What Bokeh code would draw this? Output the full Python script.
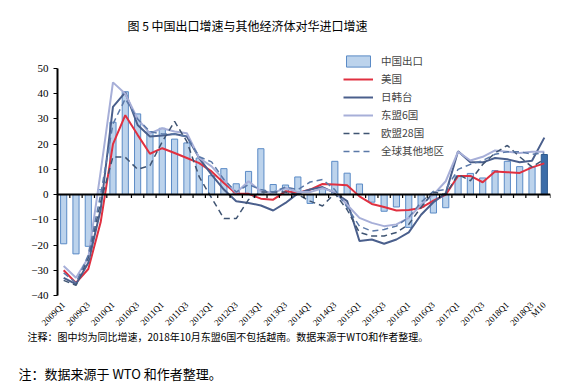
from math import pi
import numpy as np
from bokeh.plotting import figure
from bokeh.layouts import column
from bokeh.models import (ColumnDataSource, Range1d, FixedTicker, Span, Label,
                          Legend, LegendItem)
from bokeh.core.properties import value
from bokeh.embed import file_html
from bokeh.resources import INLINE

# ---------------- data ----------------
categories = [
    "2009Q1", "2009Q2", "2009Q3", "2009Q4", "2010Q1", "2010Q2", "2010Q3", "2010Q4",
    "2011Q1", "2011Q2", "2011Q3", "2011Q4", "2012Q1", "2012Q2", "2012Q3", "2012Q4",
    "2013Q1", "2013Q2", "2013Q3", "2013Q4", "2014Q1", "2014Q2", "2014Q3", "2014Q4",
    "2015Q1", "2015Q2", "2015Q3", "2015Q4", "2016Q1", "2016Q2", "2016Q3", "2016Q4",
    "2017Q1", "2017Q2", "2017Q3", "2017Q4", "2018Q1", "2018Q2", "2018Q3", "M10",
]

china_export = [-19.5, -23.5, -20.5, 2.0, 28.7, 40.8, 32.0, 25.0, 26.3, 22.0,
                20.5, 14.5, 7.5, 10.3, 4.3, 9.2, 18.2, 4.0, 3.8, 7.0,
                -3.5, 2.5, 13.2, 8.5, 4.2, -3.0, -6.6, -4.9, -13.0, -5.0,
                -7.3, -5.2, 7.4, 8.4, 6.6, 9.5, 13.2, 11.1, 10.9, 15.9]

usa = [-30.0, -35.0, -29.5, -11.0, 20.0, 31.5, 23.7, 16.2, 18.4, 16.5,
       14.5, 12.5, 9.2, 4.6, 0.3, 0.3, -1.6, -2.0, 1.3, 0.7,
       2.0, 4.2, 4.0, 3.7, -0.7, -3.7, -4.9, -6.3, -6.1, -5.3,
       -2.4, 0.0, 7.4, 7.4, 4.9, 9.2, 8.9, 8.6, 10.8, 12.4]

jkt = [-33.0, -35.5, -27.0, -6.0, 34.8, 40.5, 27.6, 23.0, 23.4, 24.0,
       23.0, 14.5, 7.9, 2.0, -2.6, -3.3, -4.3, -6.3, -3.3, 0.5,
       2.0, 3.0, 0.7, -2.6, -18.4, -17.8, -19.5, -17.8, -15.0, -8.0,
       -3.0, 0.5, 17.2, 12.8, 12.8, 14.5, 14.0, 12.8, 13.4, 22.6]

asean6 = [-28.3, -33.0, -25.0, 9.0, 44.5, 40.0, 30.0, 24.3, 26.3, 25.0,
          24.3, 14.5, 11.2, 5.9, 0.7, 5.3, 1.3, 0.7, 2.6, 1.0,
          1.0, 2.5, 1.0, -4.0, -9.2, -11.2, -12.5, -11.8, -9.2, -4.0,
          0.0, 5.3, 17.0, 13.5, 15.0, 17.5, 17.0, 16.5, 17.0, 17.0]

eu28 = [-34.0, -36.0, -25.0, -3.0, 15.0, 14.8, 10.0, 11.5, 21.0, 29.0,
        21.0, 7.0, -1.3, -9.5, -9.5, -2.0, 1.0, 1.0, 1.0, 0.0,
        -2.6, -4.5, 0.5, -6.0, -15.0, -16.4, -16.4, -15.0, -11.8, -5.0,
        1.0, 0.0, 8.0, 5.5, 12.0, 16.5, 19.5, 15.0, 11.0, 14.0]

rest_world = [-31.0, -35.0, -24.0, 0.0, 28.0, 38.0, 30.0, 25.0, 24.0, 24.0,
              23.0, 15.0, 13.0, 6.0, 1.0, 4.0, 2.0, 1.0, 3.0, 2.0,
              5.0, 6.0, 2.0, -5.0, -12.5, -14.5, -13.8, -12.5, -9.0, -3.0,
              1.3, 2.0, 10.0, 12.0, 13.5, 16.0, 17.0, 17.0, 16.0, 16.5]

y_ticks = [-40, -30, -20, -10, 0, 10, 20, 30, 40, 50]

series_names = ["中国出口", "美国", "日韩台", "东盟6国", "欧盟28国", "全球其他地区"]
title_text = "图 5 中国出口增速与其他经济体对华进口增速"
note1_text = "注释：图中均为同比增速，2018年10月东盟6国不包括越南。数据来源于WTO和作者整理。"
note2_text = "注：数据来源于 WTO 和作者整理。"

# ---------------- layout constants (pixels) ----------------
W = 566
PLOT_LEFT, PLOT_RIGHT = 57, 550
PLOT_TOP, PLOT_BOTTOM = 68, 295
H_MAIN = 300          # main chart canvas (frame runs from row 0 to PLOT_BOTTOM)
H_LOW = 86            # strip under it: category labels and notes

CJK = "Noto Sans CJK SC"
SERIF = "Liberation Serif"

n = len(categories)
xs = np.arange(n)
bar_fill = ["#3C6DA8" if c == "M10" else "#BCD3EC" for c in categories]
bar_line = ["#2F5A8F" if c == "M10" else "#5B8BC6" for c in categories]

src = ColumnDataSource(dict(x=xs, china=china_export, us=usa, jkt=jkt, asean=asean6,
                            eu=eu28, row=rest_world, fill=bar_fill, line=bar_line))

y_min, y_max = y_ticks[0], y_ticks[-1]
px_per_unit = (PLOT_BOTTOM - PLOT_TOP) / (y_max - y_min)
y_top = y_max + PLOT_TOP / px_per_unit
x_lo, x_hi = -0.5, n - 0.5
px_per_cat = (PLOT_RIGHT - PLOT_LEFT) / (x_hi - x_lo)

# ---------------- main chart ----------------
p = figure(width=W, height=H_MAIN, output_backend="svg", toolbar_location=None,
           x_range=Range1d(x_lo, x_hi), y_range=Range1d(y_min, y_top),
           x_axis_location=None,
           min_border_left=PLOT_LEFT, min_border_right=W - PLOT_RIGHT,
           min_border_top=0, min_border_bottom=H_MAIN - PLOT_BOTTOM)
p.outline_line_color = None
p.grid.visible = False
p.background_fill_color = "white"

r_bar = p.vbar(x="x", top="china", width=0.5, fill_color="fill", line_color="line",
               line_width=1, source=src)
r_us = p.line("x", "us", source=src, line_color="#E03040", line_width=2)
r_jkt = p.line("x", "jkt", source=src, line_color="#4A5F8C", line_width=2)
r_as = p.line("x", "asean", source=src, line_color="#A7AFD8", line_width=2)
r_eu = p.line("x", "eu", source=src, line_color="#3F5472", line_width=1.5,
              line_dash="6 4")
r_row = p.line("x", "row", source=src, line_color="#5B79A8", line_width=1.5,
               line_dash="6 4")

# zero axis line with category boundary ticks
p.add_layout(Span(location=0, dimension="width", line_color="black", line_width=2))
bx = xs + 0.5
p.segment(x0=bx, y0=np.zeros(n), x1=bx, y1=np.full(n, -1.3), line_color="black",
          line_width=1.2)

# y axis
yax = p.yaxis[0]
yax.ticker = FixedTicker(ticks=y_ticks)
yax.bounds = (y_min, y_max)
yax.axis_line_color = "black"
yax.axis_line_width = 2
yax.major_tick_line_color = "black"
yax.major_tick_out = 4
yax.major_tick_in = 0
yax.minor_tick_line_color = None
yax.major_label_text_font = SERIF
yax.major_label_text_font_size = "11px"
yax.major_label_text_color = "black"
yax.major_label_standoff = 5

# legend
items = [LegendItem(label=series_names[0], renderers=[r_bar]),
         LegendItem(label=series_names[1], renderers=[r_us]),
         LegendItem(label=series_names[2], renderers=[r_jkt]),
         LegendItem(label=series_names[3], renderers=[r_as]),
         LegendItem(label=series_names[4], renderers=[r_eu]),
         LegendItem(label=series_names[5], renderers=[r_row])]
legend = Legend(items=items, location=(281, PLOT_BOTTOM - 163), glyph_width=30,
                glyph_height=14, label_height=14, spacing=3, padding=5,
                label_standoff=8, label_text_font=CJK, label_text_font_size="10.5px",
                border_line_alpha=0, background_fill_alpha=0)
p.add_layout(legend)

# title
p.add_layout(Label(x=247 - PLOT_LEFT, y=PLOT_BOTTOM - 25, x_units="screen",
                   y_units="screen", text=title_text, text_align="center",
                   text_baseline="middle", text_font=CJK, text_font_size="12px",
                   text_color="black"))

# ---------------- strip: category labels + notes ----------------
low = figure(width=W, height=H_LOW, output_backend="svg", toolbar_location=None,
             x_range=Range1d(x_lo - PLOT_LEFT / px_per_cat,
                             x_hi + (W - PLOT_RIGHT) / px_per_cat),
             y_range=Range1d(0, H_LOW),
             x_axis_location=None, y_axis_location=None,
             min_border_left=0, min_border_right=0, min_border_top=0,
             min_border_bottom=0)
low.outline_line_color = None
low.grid.visible = False

# keep each canvas's own frame (no frame alignment across the column)
for fig in (p, low):
    try:
        fig.frame_align = False
    except Exception:
        pass

# every second quarter plus the final month, on the same category scale
tick_pos = list(range(0, n - 1, 2)) + [n - 1]
label_row = H_LOW - 3
low.text(x=tick_pos, y=[label_row] * len(tick_pos),
         text=[categories[t] for t in tick_pos], angle=pi / 4, text_align="right",
         text_baseline="middle", text_font=value(SERIF), text_font_size="9px",
         text_color="black")

low.add_layout(Label(x=27, y=H_LOW - 36, x_units="screen", y_units="screen",
                     text=note1_text, text_align="left", text_baseline="middle",
                     text_font=CJK, text_font_size="10px", text_color="black"))
low.add_layout(Label(x=18, y=H_LOW - 73, x_units="screen", y_units="screen",
                     text=note2_text, text_align="left", text_baseline="middle",
                     text_font=CJK, text_font_size="13px", text_color="black"))

layout = column(p, low, spacing=0)
open("out.html", "w").write(file_html(layout, INLINE))
